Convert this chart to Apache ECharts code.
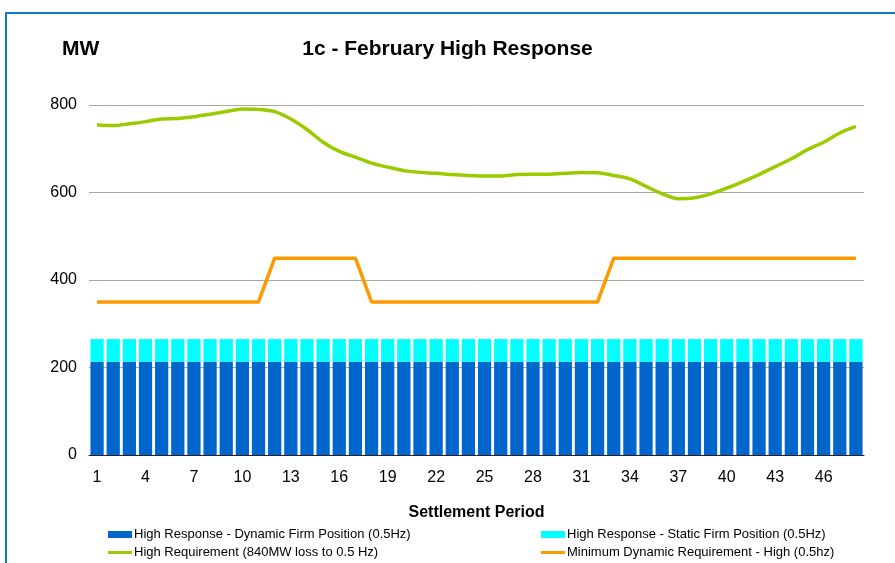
<!DOCTYPE html>
<html>
<head>
<meta charset="utf-8">
<title>1c - February High Response</title>
<script src="https://cdn.jsdelivr.net/npm/echarts@6/dist/echarts.min.js"></script>
<style>
  html, body { margin: 0; padding: 0; background: #fff; }
  #chart { width: 895px; height: 563px; }
</style>
</head>
<body>
<div id="chart"></div>
<script>
// settlement periods 1..48
const periods = [
  '1', '2', '3', '4', '5', '6', '7', '8', '9', '10', '11', '12',
  '13', '14', '15', '16', '17', '18', '19', '20', '21', '22', '23', '24',
  '25', '26', '27', '28', '29', '30', '31', '32', '33', '34', '35', '36',
  '37', '38', '39', '40', '41', '42', '43', '44', '45', '46', '47', '48'
];
// bars (stacked)
const dynamicFirm = [
  213, 213, 213, 213, 213, 213, 213, 213, 213, 213, 213, 213,
  213, 213, 213, 213, 213, 213, 213, 213, 213, 213, 213, 213,
  213, 213, 213, 213, 213, 213, 213, 213, 213, 213, 213, 213,
  213, 213, 213, 213, 213, 213, 213, 213, 213, 213, 213, 213
];
const staticFirm = [
  52, 52, 52, 52, 52, 52, 52, 52, 52, 52, 52, 52,
  52, 52, 52, 52, 52, 52, 52, 52, 52, 52, 52, 52,
  52, 52, 52, 52, 52, 52, 52, 52, 52, 52, 52, 52,
  52, 52, 52, 52, 52, 52, 52, 52, 52, 52, 52, 52
];
// lines
const highRequirement = [
  755, 753, 757, 762, 768, 769, 773, 779, 785, 791, 790, 785,
  768, 744, 715, 694, 681, 667, 658, 650, 646, 644, 641, 639,
  638, 638, 641, 642, 642, 644, 646, 645, 639, 631, 614, 597,
  586, 588, 597, 610, 625, 641, 659, 677, 698, 715, 736, 751
];
const minDynamic = [
  350, 350, 350, 350, 350, 350, 350, 350, 350, 350, 350, 450,
  450, 450, 450, 450, 450, 350, 350, 350, 350, 350, 350, 350,
  350, 350, 350, 350, 350, 350, 350, 350, 450, 450, 450, 450,
  450, 450, 450, 450, 450, 450, 450, 450, 450, 450, 450, 450
];
const yTicks = [0, 200, 400, 600, 800];

const names = [
  'High Response - Dynamic Firm Position (0.5Hz)',
  'High Response - Static Firm Position (0.5Hz)',
  'High Requirement (840MW loss to 0.5 Hz)',
  'Minimum Dynamic Requirement - High (0.5hz)'
];

let myChart = echarts.init(document.getElementById('chart'));

const font = 'Liberation Sans, Arial, sans-serif';

// one legend per item so each sits where the original puts it
function legendItem(name, left, top, iconH) {
  return {
    data: [{ name: name, icon: 'rect' }],
    left: left,
    top: top,
    padding: 0,
    itemWidth: 24,
    itemHeight: iconH,
    textStyle: { fontSize: 13, color: '#000', fontFamily: font, padding: [0, 0, 0, -3] }
  };
}

let option = {
  animation: false,
  textStyle: { fontFamily: font },
  title: [
    {
      text: '1c - February High Response',
      left: 'center',
      top: 34,
      textStyle: { fontSize: 21, fontWeight: 'bold', color: '#000', fontFamily: font }
    },
    {
      text: 'MW',
      left: 57,
      top: 34,
      textStyle: { fontSize: 21, fontWeight: 'bold', color: '#000', fontFamily: font }
    }
  ],
  // blue frame, only top & left visible in the reference
  graphic: [
    {
      type: 'rect',
      shape: { x: 6, y: 13, width: 1000, height: 1000 },
      style: { fill: 'none', stroke: '#1177c8', lineWidth: 2 },
      silent: true
    }
  ],
  legend: [
    legendItem(names[0], 108, 528, 7),
    legendItem(names[2], 108, 546, 3),
    legendItem(names[1], 541, 528, 7),
    legendItem(names[3], 541, 546, 3)
  ],
  grid: {
    left: 89,
    right: 31,
    top: 105,
    bottom: 108
  },
  xAxis: {
    type: 'category',
    data: periods,
    name: 'Settlement Period',
    nameLocation: 'middle',
    nameGap: 50,
    nameTextStyle: { fontSize: 16, fontWeight: 'bold', color: '#000', fontFamily: font },
    axisLine: { lineStyle: { color: '#222', width: 1 } },
    axisTick: { interval: 2, length: 5, lineStyle: { color: '#555' } },
    axisLabel: { interval: 2, fontSize: 16, color: '#000', margin: 15, fontFamily: font }
  },
  yAxis: {
    type: 'value',
    min: yTicks[0],
    max: yTicks[yTicks.length - 1],
    interval: 200,
    axisLine: { show: false },
    axisTick: { show: false },
    axisLabel: { fontSize: 16, color: '#000', margin: 12, fontFamily: font },
    splitLine: { lineStyle: { color: '#a6a6a6', width: 1 } }
  },
  series: [
    {
      name: names[0],
      type: 'bar',
      stack: 'firm',
      data: dynamicFirm,
      barCategoryGap: '18%',
      itemStyle: { color: '#0066cc' }
    },
    {
      name: names[1],
      type: 'bar',
      stack: 'firm',
      data: staticFirm,
      barCategoryGap: '18%',
      itemStyle: { color: '#00ffff' }
    },
    {
      name: names[2],
      type: 'line',
      data: highRequirement,
      smooth: 0.3,
      symbol: 'none',
      lineStyle: { color: '#99cc00', width: 3.5 },
      itemStyle: { color: '#99cc00' }
    },
    {
      name: names[3],
      type: 'line',
      data: minDynamic,
      symbol: 'none',
      lineStyle: { color: '#ff9900', width: 3.5 },
      itemStyle: { color: '#ff9900' }
    }
  ]
};

myChart.setOption(option);
window.addEventListener('resize', function () {
  myChart.resize();
});
</script>
</body>
</html>
